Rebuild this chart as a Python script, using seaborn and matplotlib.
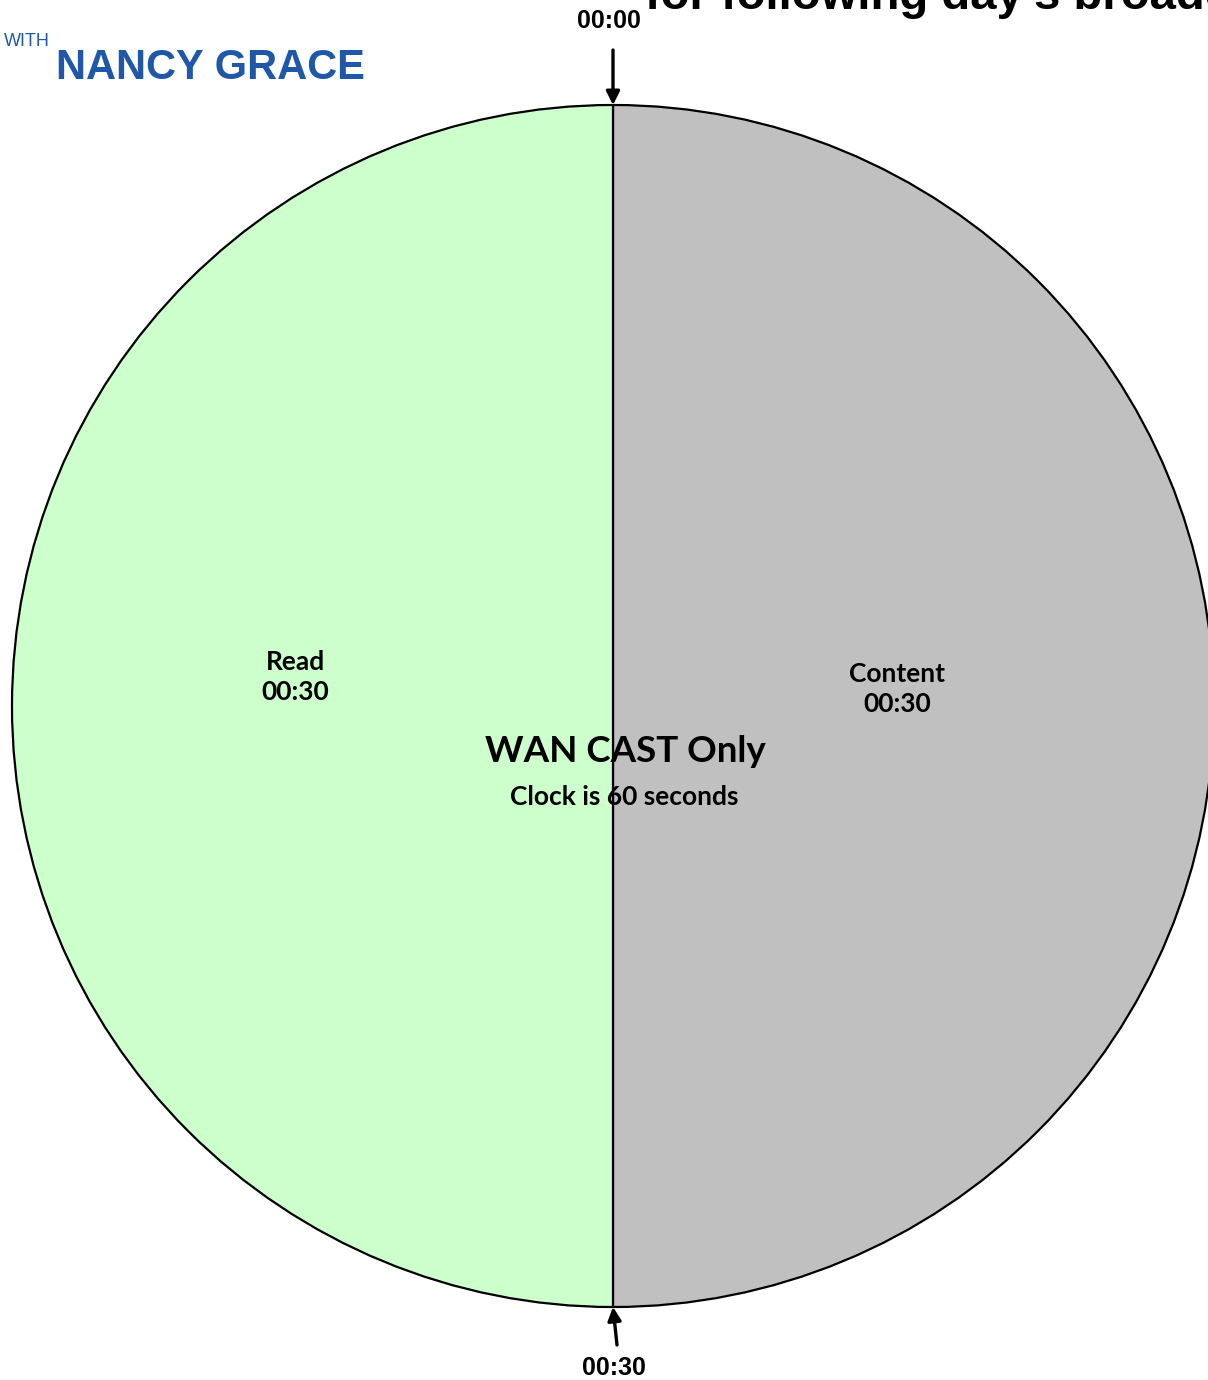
import matplotlib
matplotlib.use("Agg")
import matplotlib.pyplot as plt
import seaborn as sns

# ---- data ----
segments = ["Content", "Read"]
durations = [30, 30]            # seconds
segment_labels = ["Content\n00:30", "Read\n00:30"]
segment_colors = ["#C0C0C0", "#CCFFCC"]
time_marks = ["00:00", "00:30"]
center_title = "WAN CAST Only"
center_sub = "Clock is 60 seconds"
top_title = "for following day's broadcast"
logo_small = "WITH"
logo_big = "NANCY GRACE"

sns.set_theme(style="white")
plt.rcParams["font.family"] = ["Lato", "DejaVu Sans"]
plt.rcParams["text.color"] = "black"

W, H = 1208, 1380
fig = plt.figure(figsize=(W / 100, H / 100), dpi=100)
ax = fig.add_axes([0, 0, 1, 1])

cx, cy, r = 613, H - 706, 601
ax.pie(durations, colors=segment_colors, startangle=90, counterclock=False,
       center=(cx, cy), radius=r, frame=True,
       wedgeprops=dict(edgecolor="black", linewidth=1.6))
ax.set_xlim(0, W)
ax.set_ylim(0, H)
ax.set_aspect("equal")
ax.axis("off")

# segment labels
ax.text(897, H - 689, segment_labels[0], ha="center", va="center",
        fontsize=19, fontweight="bold", linespacing=1.3, color="black")
ax.text(295, H - 677, segment_labels[1], ha="center", va="center",
        fontsize=19, fontweight="bold", linespacing=1.3, color="black")

# center text
ax.text(625, H - 752, center_title, ha="center", va="center",
        fontsize=26.5, fontweight="bold", color="black")
ax.text(624, H - 797, center_sub, ha="center", va="center",
        fontsize=19, fontweight="bold", color="black")

# time marks + arrows
arial = ["Liberation Sans", "DejaVu Sans"]
ax.text(609, H - 21, time_marks[0], ha="center", va="center",
        fontsize=18, fontweight="bold", family=arial, color="black")
ax.text(614, H - 1368, time_marks[1], ha="center", va="center",
        fontsize=18, fontweight="bold", family=arial, color="black")
ax.annotate("", xy=(613, H - 105), xytext=(613, H - 50),
            arrowprops=dict(arrowstyle="-|>", color="black", lw=2.4,
                            mutation_scale=20, shrinkA=0, shrinkB=0))
ax.annotate("", xy=(613, H - 1307), xytext=(617, H - 1345),
            arrowprops=dict(arrowstyle="-|>", color="black", lw=2.4,
                            mutation_scale=20, shrinkA=0, shrinkB=0))

# title (cut at top, as in the reference)
ax.text(645, H - 9, top_title, ha="left", va="baseline",
        fontsize=34, fontweight="bold", family=arial, color="black")

# logo
ax.text(4, H - 42, logo_small, ha="left", va="center",
        fontsize=13, family=arial, color="#1F58A8")
ax.text(56, H - 68, logo_big, ha="left", va="center",
        fontsize=30, fontweight="bold", family=arial, color="#1F58A8")

fig.savefig("out.png", dpi=100)
